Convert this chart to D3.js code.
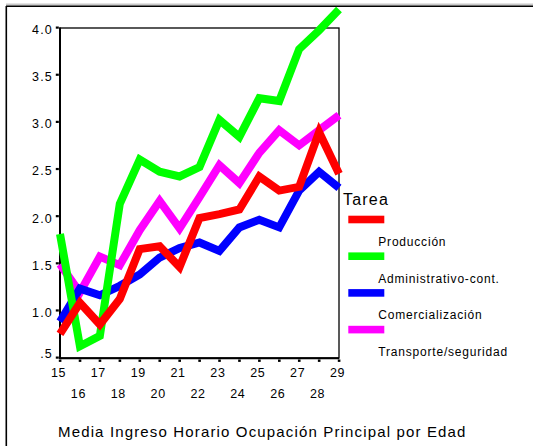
<!DOCTYPE html>
<html>
<head>
<meta charset="utf-8">
<script src="https://cdn.jsdelivr.net/npm/d3@7"></script>
<style>
  html, body { margin: 0; padding: 0; background: #fff; }
  svg { display: block; font-family: Arial, "Liberation Sans", sans-serif; }
</style>
</head>
<body>
<svg id="chart" width="533" height="446"></svg>
<script>
// ---- data ----
const ages = [15, 16, 17, 18, 19, 20, 21, 22, 23, 24, 25, 26, 27, 28, 29];
const seriesNames = ["Producción", "Administrativo-cont.", "Comercialización", "Transporte/seguridad"];
const produccion       = [0.75, 1.08, 0.85, 1.12, 1.65, 1.68, 1.46, 1.98, 2.02, 2.07, 2.42, 2.27, 2.31, 2.89, 2.45];
const administrativo   = [1.81, 0.62, 0.73, 2.13, 2.60, 2.47, 2.42, 2.52, 3.02, 2.84, 3.25, 3.22, 3.77, 3.97, 4.19];
const comercializacion = [0.88, 1.23, 1.16, 1.26, 1.38, 1.56, 1.66, 1.72, 1.63, 1.88, 1.96, 1.88, 2.27, 2.47, 2.30];
const transporte       = [1.49, 1.19, 1.57, 1.48, 1.85, 2.16, 1.87, 2.20, 2.54, 2.35, 2.67, 2.91, 2.75, 2.91, 3.07];
const yTickValues = [0.5, 1.0, 1.5, 2.0, 2.5, 3.0, 3.5, 4.0];
const yTickLabels = [".5", "1.0", "1.5", "2.0", "2.5", "3.0", "3.5", "4.0"];
const xTickValues = ages;
const legendTitle = "Tarea";
const chartTitle = "Media Ingreso Horario Ocupación Principal por Edad";
const colors = ["#ff0000", "#00ff00", "#0000ff", "#ff00ff"];

const allValues = [produccion, administrativo, comercializacion, transporte];
const series = seriesNames.map((name, i) => ({
  name, color: colors[i], values: ages.map((a, j) => ({ age: a, v: allValues[i][j] }))
}));

// ---- layout ----
const svg = d3.select("#chart");
const plot = { left: 60, right: 339, top: 27.5, bottom: 357.5 };
const x = d3.scaleLinear().domain([15, 29]).range([plot.left, plot.right]);
const y = d3.scaleLinear().domain([0.5, 4.0]).range([plot.bottom, plot.top]);

// outer frame
svg.append("line").attr("x1", 6).attr("x2", 533).attr("y1", 4.5).attr("y2", 4.5)
  .attr("stroke", "#c8c8c8").attr("stroke-width", 2);
svg.append("line").attr("x1", 6).attr("x2", 533).attr("y1", 6.3).attr("y2", 6.3)
  .attr("stroke", "#000").attr("stroke-width", 1.4);
svg.append("line").attr("x1", 6.3).attr("x2", 6.3).attr("y1", 6).attr("y2", 446)
  .attr("stroke", "#000").attr("stroke-width", 1.6);

// plot frame
svg.append("rect")
  .attr("x", plot.left).attr("y", plot.top + 0.5)
  .attr("width", plot.right - plot.left).attr("height", plot.bottom - plot.top)
  .attr("fill", "none").attr("stroke", "#000").attr("stroke-width", 1.3);
svg.append("line").attr("x1", plot.left).attr("x2", plot.left)
  .attr("y1", plot.top).attr("y2", plot.bottom + 1.5)
  .attr("stroke", "#000").attr("stroke-width", 2);
svg.append("line").attr("x1", plot.left).attr("x2", plot.right)
  .attr("y1", plot.bottom + 0.8).attr("y2", plot.bottom + 0.8)
  .attr("stroke", "#000").attr("stroke-width", 2);

// y ticks
const yAxis = svg.append("g");
yAxis.selectAll("rect").data(yTickValues).join("rect")
  .attr("x", 55.8).attr("y", d => y(d) - 1).attr("width", 3).attr("height", 2.2).attr("fill", "#000");
yAxis.selectAll("text").data(yTickValues).join("text")
  .attr("x", 53).attr("y", (d, i) => y(d) + (i === 0 ? 0 : 6.5))
  .attr("text-anchor", "end").attr("font-size", 12.5).attr("letter-spacing", 1.2)
  .attr("fill", "#000").text((d, i) => yTickLabels[i]);

// x ticks
const xAxis = svg.append("g");
xAxis.selectAll("rect").data(xTickValues).join("rect")
  .attr("x", d => x(d) - 1.2).attr("y", 359.5).attr("width", 2.6).attr("height", 2.4).attr("fill", "#000");
xAxis.selectAll("text").data(xTickValues).join("text")
  .attr("x", d => x(d) - 1.5).attr("y", d => (d % 2 === 1 ? 377 : 398))
  .attr("text-anchor", "middle").attr("font-size", 12.5).attr("letter-spacing", 0.6)
  .attr("fill", "#000").text(d => d);

// lines (drawn in reverse so red is on top)
const line = d3.line().x(d => x(d.age)).y(d => y(d.v));
svg.append("g").selectAll("path").data(series.slice().reverse()).join("path")
  .attr("d", d => line(d.values))
  .attr("fill", "none").attr("stroke", d => d.color)
  .attr("stroke-width", 8).attr("stroke-linejoin", "miter").attr("stroke-miterlimit", 10)
  .attr("stroke-linecap", "butt");

// legend
svg.append("text").attr("x", 343).attr("y", 205).attr("font-size", 16)
  .attr("letter-spacing", 1.2).attr("fill", "#000").text(legendTitle);
const lg = svg.append("g").selectAll("g").data(series).join("g")
  .attr("transform", (d, i) => `translate(0, ${i * 36.7})`);
lg.append("rect").attr("x", 348.3).attr("y", 215.7).attr("width", 36).attr("height", 7.6)
  .attr("fill", d => d.color);
lg.append("text").attr("x", 378.3).attr("y", 246).attr("font-size", 12)
  .attr("letter-spacing", 0.8).attr("fill", "#000").text(d => d.name);

// title
svg.append("text").attr("x", 58).attr("y", 437).attr("font-size", 15)
  .attr("letter-spacing", 1.15).attr("fill", "#000").text(chartTitle);
</script>
</body>
</html>
